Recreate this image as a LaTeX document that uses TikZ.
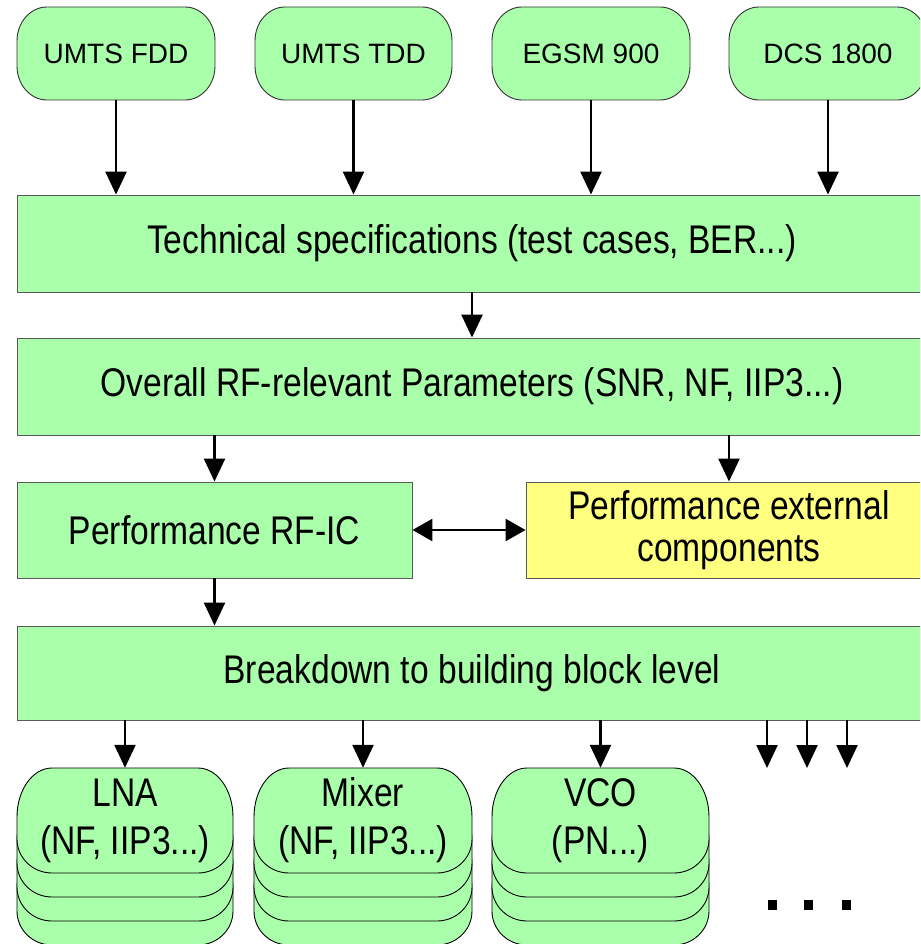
\documentclass[tikz,border=0pt]{standalone}
\usepackage{fontspec}
\setmainfont{Liberation Sans}[FakeStretch=0.84]
\newfontfamily\topfont{Liberation Sans}
\usetikzlibrary{arrows.meta,calc}
\definecolor{boxgreen}{RGB}{170,255,170}
\definecolor{boxyellow}{RGB}{255,255,128}
\definecolor{edgegray}{RGB}{90,90,90}
% #1 style, #2 x1, #3 y1, #4 x2, #5 y2, #6 rx, #7 ry (top corners), #8 ry (bottom corners)
\newcommand\ellbox[8]{%
  \pgfmathsetmacro\ebka{0.5523*#6}\pgfmathsetmacro\ebkb{0.5523*#7}\pgfmathsetmacro\ebkc{0.5523*#8}%
  \draw[#1] (#2+#6,#3) -- (#4-#6,#3)
    .. controls (#4-#6+\ebka,#3) and (#4,#3+#7-\ebkb) .. (#4,#3+#7)
    -- (#4,#5-#8)
    .. controls (#4,#5-#8+\ebkc) and (#4-#6+\ebka,#5) .. (#4-#6,#5)
    -- (#2+#6,#5)
    .. controls (#2+#6-\ebka,#5) and (#2,#5-#8+\ebkc) .. (#2,#5-#8)
    -- (#2,#3+#7)
    .. controls (#2,#3+#7-\ebkb) and (#2+#6-\ebka,#3) .. (#2+#6,#3) -- cycle;}
\newcommand\stackbox[4]{% #1 x1, #2 y1, #3 x2, #4 y2
  \foreach \sh in {72,48,24,0}{%
    \ellbox{stackshape}{#1}{#2+\sh}{#3}{#4+\sh}{35}{49}{34}}}
\tikzset{
  topshape/.style={fill=boxgreen,draw=black!80,line width=0.9pt},
  stackshape/.style={fill=boxgreen,draw=black,line width=0.9pt},
  toptext/.style={font=\topfont\fontsize{28}{32}\selectfont,inner sep=0pt},
  rectbox/.style={draw=edgegray,fill=boxgreen,line width=0.9pt,inner sep=0pt,
    font=\fontsize{40}{42}\selectfont,align=center},
  stacktext/.style={inner sep=0pt,font=\fontsize{40}{48}\selectfont,align=center},
  arr/.style={line width=2.4pt,-{Triangle[width=21pt,length=23pt]}},
  dblarr/.style={line width=2.4pt,{Triangle[width=22pt,length=20pt]}-{Triangle[width=22pt,length=20pt]}},
}
\begin{document}
\begin{tikzpicture}[x=1pt,y=-1pt]
\useasboundingbox (0,0) rectangle (920,944);
\clip (0,0) rectangle (920,944);
% top rounded boxes
\ellbox{topshape}{17}{7}{215}{100}{30}{34}{34}
\ellbox{topshape}{255}{7}{452}{100}{30}{34}{34}
\ellbox{topshape}{492}{7}{690}{100}{30}{34}{34}
\ellbox{topshape}{729}{7}{927}{100}{30}{34}{34}
\node[toptext,minimum width=198pt,minimum height=93pt] (fdd) at (116,53.5) {UMTS FDD};
\node[toptext,minimum width=197pt,minimum height=93pt] (tdd) at (353.5,53.5) {UMTS TDD};
\node[toptext,minimum width=198pt,minimum height=93pt] (egsm) at (591,53.5) {EGSM 900};
\node[toptext,minimum width=198pt,minimum height=93pt] (dcs) at (828,53.5) {DCS 1800};
% rectangular boxes
\node[rectbox,minimum width=910pt,minimum height=97pt] (spec) at (472,243.5) {Technical specifications (test cases, BER...)};
\node[rectbox,minimum width=910pt,minimum height=97pt] (overall) at (472,386.5) {Overall RF-relevant Parameters (SNR, NF, IIP3...)};
\node[rectbox,minimum width=395pt,minimum height=96pt] (rfic) at (214.5,530) {Performance RF-IC};
\node[rectbox,fill=boxyellow,minimum width=406pt,minimum height=96pt] (ext) at (729,530) {Performance external\\components};
\node[rectbox,minimum width=910pt,minimum height=94pt] (bd) at (472,673) {Breakdown to building block level};
% stacked boxes
\stackbox{17}{768}{233}{873}
\stackbox{254}{768}{472}{873}
\stackbox{492}{768}{709}{873}
\node[stacktext,minimum width=216pt,minimum height=105pt] (lna) at (125,820.5) {LNA\\(NF, IIP3...)};
\node[stacktext,minimum width=218pt,minimum height=105pt] (mixer) at (363,820.5) {Mixer\\(NF, IIP3...)};
\node[stacktext,minimum width=217pt,minimum height=105pt] (vco) at (600.5,820.5) {VCO\\(PN...)};
% free arrow ends
\coordinate (f1) at (767,768);
\coordinate (f2) at (807,768);
\coordinate (f3) at (847,768);
% connectors
\draw[arr] (fdd.south) -- (fdd.south |- spec.north);
\draw[arr] (tdd.south) -- (tdd.south |- spec.north);
\draw[arr] (egsm.south) -- (egsm.south |- spec.north);
\draw[arr] (dcs.south) -- (dcs.south |- spec.north);
\draw[arr] (spec.south) -- (overall.north);
\draw[arr] (overall.south -| rfic.north) -- (rfic.north);
\draw[arr] (overall.south -| ext.north) -- (ext.north);
\draw[dblarr] (rfic.east) -- (ext.west);
\draw[arr] (rfic.south) -- (rfic.south |- bd.north);
\draw[arr] (bd.south -| lna.north) -- (lna.north);
\draw[arr] (bd.south -| mixer.north) -- (mixer.north);
\draw[arr] (bd.south -| vco.north) -- (vco.north);
\draw[arr] (bd.south -| f1) -- (f1);
\draw[arr] (bd.south -| f2) -- (f2);
\draw[arr] (bd.south -| f3) -- (f3);
% ellipsis dots
\fill (768,900) rectangle (777,910);
\fill (804,900) rectangle (813,910);
\fill (842,900) rectangle (851,910);
\end{tikzpicture}
\end{document}
